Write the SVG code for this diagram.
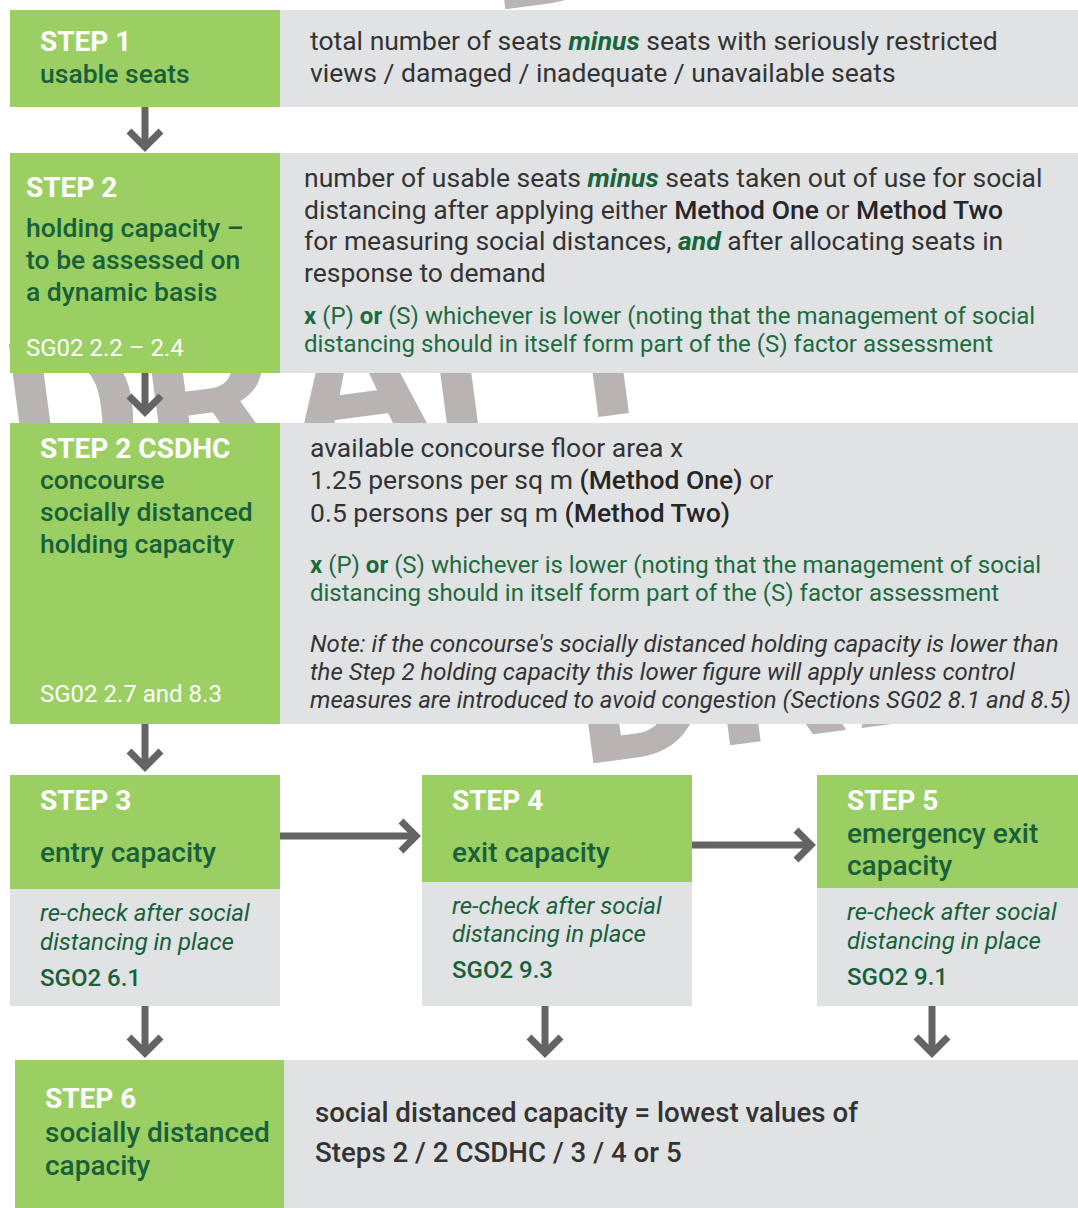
<svg xmlns="http://www.w3.org/2000/svg" width="1078" height="1208" viewBox="0 0 1078 1208">
<defs>
<style>
text{font-family:Roboto,"Liberation Sans",sans-serif;}
.wm{font-size:210px;font-weight:700;fill:#b9b4b4;}
.g{fill:#9bcf63;}
.k{fill:#e1e2e4;}
.step{font-size:28px;font-weight:700;fill:#ffffff;}
.ttl{font-size:26.5px;font-weight:500;fill:#17603a;}
.ttl2{font-size:28px;font-weight:500;fill:#17603a;}
.ref{font-size:24px;fill:#ffffff;}
.body{font-size:26.5px;fill:#333333;}
.b{font-weight:500;fill:#262626;}
.bi{font-weight:700;font-style:italic;fill:#17663b;}
.gt{font-size:24px;fill:#1c6b3f;}
.gb{font-weight:700;}
.note{font-size:24px;font-style:italic;fill:#333333;}
.rc{font-size:24px;font-style:italic;fill:#17603a;}
.sg{font-size:24px;font-weight:500;fill:#17603a;}
.res{font-size:27.7px;font-weight:500;fill:#333333;}
.conn line,.conn polyline{stroke:#646464;stroke-width:7;fill:none;}
</style>
</defs>
<rect width="1078" height="1208" fill="#ffffff"/>
<g id="watermark">
<text class="wm" transform="translate(30,492) rotate(-7.5)" x="-15 123 268 409 524" y="0">DRAFT</text>
<text class="wm" transform="translate(595,763) rotate(-7.5)" x="-15 123 268 409 524" y="0">DRAFT</text>
<text class="wm" transform="translate(507,9) rotate(-7.5)" x="-15 123 268 409 524" y="0">DRAFT</text>
</g>
<g id="step1">
<rect class="g" x="10" y="10" width="270" height="97"/>
<rect class="k" x="280" y="10" width="798" height="97"/>
<text class="step" x="40" y="51">STEP 1</text>
<text class="ttl" x="40" y="83">usable seats</text>
<text class="body" x="310" y="50">total number of seats <tspan class="bi">minus</tspan> seats with seriously restricted</text>
<text class="body" x="310" y="82">views / damaged / inadequate / unavailable seats</text>
</g>
<g id="step2">
<rect class="g" x="10" y="153" width="270" height="220"/>
<rect class="k" x="280" y="153" width="798" height="220"/>
<text class="step" x="26" y="197">STEP 2</text>
<text class="ttl" x="26" y="237">holding capacity –</text>
<text class="ttl" x="26" y="269">to be assessed on</text>
<text class="ttl" x="26" y="301">a dynamic basis</text>
<text class="ref" x="26" y="356">SG02 2.2 – 2.4</text>
<text class="body" x="304" y="187">number of usable seats <tspan class="bi">minus</tspan> seats taken out of use for social</text>
<text class="body" x="304" y="219">distancing after applying either <tspan class="b">Method One</tspan> or <tspan class="b">Method Two</tspan></text>
<text class="body" x="304" y="250">for measuring social distances, <tspan class="bi">and</tspan> after allocating seats in</text>
<text class="body" x="304" y="282">response to demand</text>
<text class="gt" x="304" y="324"><tspan class="gb">x</tspan> (P) <tspan class="gb">or</tspan> (S) whichever is lower (noting that the management of social</text>
<text class="gt" x="304" y="352">distancing should in itself form part of the (S) factor assessment</text>
</g>
<g id="step2csdhc">
<rect class="g" x="10" y="423" width="270" height="301"/>
<rect class="k" x="280" y="423" width="798" height="301"/>
<text class="step" x="40" y="458">STEP 2 CSDHC</text>
<text class="ttl" x="40" y="489">concourse</text>
<text class="ttl" x="40" y="521">socially distanced</text>
<text class="ttl" x="40" y="553">holding capacity</text>
<text class="ref" x="40" y="702">SG02 2.7 and 8.3</text>
<text class="body" x="310" y="457">available concourse floor area x</text>
<text class="body" x="310" y="489">1.25 persons per sq m <tspan class="b">(Method One)</tspan> or</text>
<text class="body" x="310" y="522">0.5 persons per sq m <tspan class="b">(Method Two)</tspan></text>
<text class="gt" x="310" y="573"><tspan class="gb">x</tspan> (P) <tspan class="gb">or</tspan> (S) whichever is lower (noting that the management of social</text>
<text class="gt" x="310" y="601">distancing should in itself form part of the (S) factor assessment</text>
<text class="note" x="310" y="652">Note: if the concourse's socially distanced holding capacity is lower than</text>
<text class="note" x="310" y="680">the Step 2 holding capacity this lower figure will apply unless control</text>
<text class="note" x="310" y="708">measures are introduced to avoid congestion (Sections SG02 8.1 and 8.5)</text>
</g>
<g id="step3">
<rect class="g" x="10" y="775" width="270" height="114"/>
<rect class="k" x="10" y="889" width="270" height="117"/>
<text class="step" x="40" y="810">STEP 3</text>
<text class="ttl2" x="40" y="862">entry capacity</text>
<text class="rc" x="40" y="921">re-check after social</text>
<text class="rc" x="40" y="950">distancing in place</text>
<text class="sg" x="40" y="986">SGO2 6.1</text>
</g>
<g id="step4">
<rect class="g" x="422" y="775" width="270" height="107"/>
<rect class="k" x="422" y="882" width="270" height="124"/>
<text class="step" x="452" y="810">STEP 4</text>
<text class="ttl2" x="452" y="862">exit capacity</text>
<text class="rc" x="452" y="914">re-check after social</text>
<text class="rc" x="452" y="942">distancing in place</text>
<text class="sg" x="452" y="978">SGO2 9.3</text>
</g>
<g id="step5">
<rect class="g" x="817" y="775" width="261" height="113"/>
<rect class="k" x="817" y="888" width="261" height="118"/>
<text class="step" x="847" y="810">STEP 5</text>
<text class="ttl2" x="847" y="843">emergency exit</text>
<text class="ttl2" x="847" y="875">capacity</text>
<text class="rc" x="847" y="920">re-check after social</text>
<text class="rc" x="847" y="949">distancing in place</text>
<text class="sg" x="847" y="985">SGO2 9.1</text>
</g>
<g id="step6">
<rect class="g" x="15" y="1060" width="269" height="148"/>
<rect class="k" x="284" y="1060" width="794" height="148"/>
<text class="step" x="45" y="1108">STEP 6</text>
<text class="ttl2" x="45" y="1142">socially distanced</text>
<text class="ttl2" x="45" y="1175">capacity</text>
<text class="res" x="315" y="1122">social distanced capacity = lowest values of</text>
<text class="res" x="315" y="1162">Steps 2 / 2 CSDHC / 3 / 4 or 5</text>
</g>
<g id="connectors" class="conn">
<line x1="145" y1="107" x2="145" y2="146"/>
<polyline points="129,131 145,147 161,131"/>
<line x1="145" y1="373" x2="145" y2="411"/>
<polyline points="129,396 145,412 161,396"/>
<line x1="145" y1="724" x2="145" y2="766"/>
<polyline points="129,751 145,767 161,751"/>
<line x1="280" y1="836" x2="415" y2="836"/>
<polyline points="401,821 416,836 401,851"/>
<line x1="692" y1="845" x2="810" y2="845"/>
<polyline points="796,830 811,845 796,860"/>
<line x1="145" y1="1006" x2="145" y2="1052"/>
<polyline points="129,1037 145,1053 161,1037"/>
<line x1="545" y1="1006" x2="545" y2="1052"/>
<polyline points="529,1037 545,1053 561,1037"/>
<line x1="932" y1="1006" x2="932" y2="1052"/>
<polyline points="916,1037 932,1053 948,1037"/>
</g>
</svg>
